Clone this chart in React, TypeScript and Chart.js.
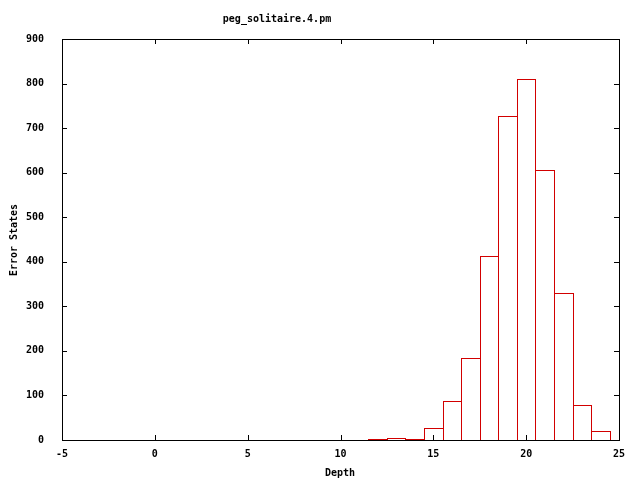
import React, { useEffect, useRef } from "react";
import { Chart, registerables } from "chart.js";

Chart.register(...registerables);

const depths = [12, 13, 14, 15, 16, 17, 18, 19, 20, 21, 22, 23, 24];
const errorStates = [2, 5, 2, 27, 88, 184, 412, 728, 811, 605, 330, 79, 20];
const titleText = "peg_solitaire.4.pm";
const xTitle = "Depth";
const yTitle = "Error States";

const BAR_COLOR = "rgb(210,0,0)";
const FONT = "bold 10px 'DejaVu Sans Mono', monospace";

const crispBars = {
  id: "crispBars",
  afterDatasetsDraw(chart: any) {
    const { ctx } = chart;
    const meta = chart.getDatasetMeta(0);
    ctx.save();
    ctx.fillStyle = BAR_COLOR;
    meta.data.forEach((el: any) => {
      const p = el.getProps(["x", "y", "base", "width"], true);
      const l = Math.round(p.x - p.width / 2);
      const r = Math.round(p.x + p.width / 2);
      const t = Math.round(p.y);
      const b = Math.round(p.base);
      ctx.fillRect(l, t, 1, b - t);
      ctx.fillRect(r, t, 1, b - t);
      ctx.fillRect(l, t, r - l + 1, 1);
    });
    ctx.restore();
  },
};

const framePlugin = {
  id: "frame",
  afterDraw(chart: any) {
    const { ctx, chartArea } = chart;
    const { left, right, top, bottom } = chartArea;
    ctx.save();
    ctx.fillStyle = "#000";
    const L = Math.round(left), R = Math.round(right), T = Math.round(top), B = Math.round(bottom);
    ctx.fillRect(L, T, R - L + 1, 1);
    ctx.fillRect(L, B, R - L + 1, 1);
    ctx.fillRect(L, T, 1, B - T + 1);
    ctx.fillRect(R, T, 1, B - T + 1);
    const xs = chart.scales.x;
    const ys = chart.scales.y;
    const tl = 5;
    xs.ticks.forEach((t: any) => {
      const px = Math.round(xs.getPixelForValue(t.value));
      ctx.fillRect(px, B - tl, 1, tl);
      ctx.fillRect(px, T, 1, tl);
    });
    ys.ticks.forEach((t: any) => {
      const py = Math.round(ys.getPixelForValue(t.value));
      ctx.fillRect(L, py, tl, 1);
      ctx.fillRect(R - tl, py, tl, 1);
    });
    ctx.font = FONT;
    ctx.textAlign = "center";
    ctx.textBaseline = "middle";
    ctx.fillText(titleText, 277, 19);
    ctx.fillText(xTitle, 340, 473);
    ctx.translate(14, 240);
    ctx.rotate(-Math.PI / 2);
    ctx.fillText(yTitle, 0, 0);
    ctx.restore();
  },
};

export default function App() {
  const ref = useRef<HTMLCanvasElement | null>(null);
  useEffect(() => {
    if (!ref.current) return;
    const chart = new Chart(ref.current, {
      type: "bar",
      data: {
        datasets: [
          {
            data: depths.map((d, i) => ({ x: d, y: errorStates[i] })),
            backgroundColor: "rgba(0,0,0,0)",
            borderColor: "rgba(0,0,0,0)",
            borderWidth: 0,
            barPercentage: 1,
            categoryPercentage: 1,
          },
        ],
      },
      options: {
        animation: false,
        responsive: false,
        maintainAspectRatio: false,
        layout: { padding: { top: 39, right: 21, left: 0, bottom: 0 } },
        plugins: { legend: { display: false }, tooltip: { enabled: false }, title: { display: false } },
        scales: {
          x: {
            type: "linear",
            min: -5,
            max: 25,
            offset: false,
            grid: { display: false, drawTicks: false },
            border: { display: false },
            ticks: {
              stepSize: 5,
              padding: 8,
              color: "#000",
              font: { family: "'DejaVu Sans Mono', monospace", size: 10, weight: "bold" },
              maxRotation: 0,
            },
            afterFit: (s: any) => {
              s.height = 40;
            },
          },
          y: {
            min: 0,
            max: 900,
            grid: { display: false, drawTicks: false },
            border: { display: false },
            ticks: {
              stepSize: 100,
              padding: 18,
              color: "#000",
              font: { family: "'DejaVu Sans Mono', monospace", size: 10, weight: "bold" },
            },
            afterFit: (s: any) => {
              s.width = 62;
            },
          },
        },
      },
      plugins: [crispBars, framePlugin],
    });
    return () => chart.destroy();
  }, []);
  return (
    <div style={{ position: "fixed", left: 0, top: 0, width: 640, height: 480, background: "#fff" }}>
      <canvas ref={ref} width={640} height={480} style={{ width: 640, height: 480 }} />
    </div>
  );
}
